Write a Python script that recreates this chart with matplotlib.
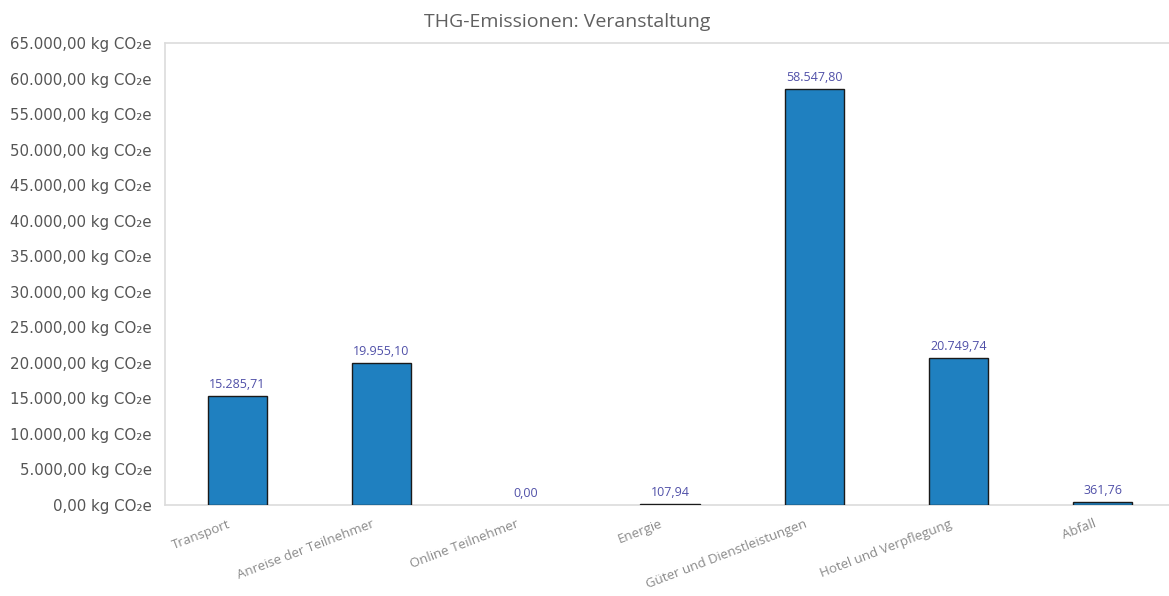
import numpy as np
import matplotlib.pyplot as plt
import matplotlib.transforms as mtransforms
from matplotlib.ticker import FuncFormatter

categories = ["Transport", "Anreise der Teilnehmer", "Online Teilnehmer", "Energie",
              "Güter und Dienstleistungen", "Hotel und Verpflegung", "Abfall"]
values = [15285.71, 19955.10, 0.00, 107.94, 58547.80, 20749.74, 361.76]
y_ticks = np.arange(0, 65001, 5000)


def de_num(v):
    s = f"{v:,.2f}"
    return s.replace(",", "X").replace(".", ",").replace("X", ".")


fig = plt.figure(figsize=(11.69, 5.96), dpi=100)
ax = fig.add_axes([165 / 1169, 91 / 596, 1010 / 1169, 462 / 596])

x = np.arange(len(categories))
# zero-height bars get no outline, like the reference
lw = [1.0 if v > 0 else 0 for v in values]
bars = ax.bar(x, values, width=0.41, color="#1f80c0", edgecolor="#1a1a1a", linewidth=lw, zorder=3)

for xi, v in zip(x, values):
    ax.text(xi, v + 700, de_num(v), ha="center", va="bottom", fontsize=9,
            color="#5050a8", family="Open Sans")

ax.set_xlim(-0.5, len(categories) - 0.5)
ax.set_ylim(0, 65000)
ax.set_yticks(y_ticks)
ax.yaxis.set_major_formatter(FuncFormatter(lambda v, p: de_num(v) + " kg CO₂e"))
ax.tick_params(axis="y", length=0, pad=9.5, labelsize=10.8, labelcolor="#555555")

ax.set_xticks(x)
ax.set_xticklabels(categories, rotation=21, ha="right", rotation_mode="anchor",
                   fontsize=9.5, color="#8a8a8a", family="Open Sans")
ax.tick_params(axis="x", length=0, pad=9)
shift = mtransforms.ScaledTranslation(-10 / 100, 0, fig.dpi_scale_trans)
for lab in ax.get_xticklabels():
    lab.set_transform(lab.get_transform() + shift)

ax.spines["right"].set_visible(False)
for side in ["top", "left", "bottom"]:
    ax.spines[side].set_color("#dcdcdc")
    ax.spines[side].set_linewidth(1.2)

fig.text(567 / 1169, 1 - 22 / 596, "THG-Emissionen: Veranstaltung", ha="center", va="center",
         fontsize=14, color="#606060", family="Open Sans")

fig.savefig("out.png", dpi=100)
